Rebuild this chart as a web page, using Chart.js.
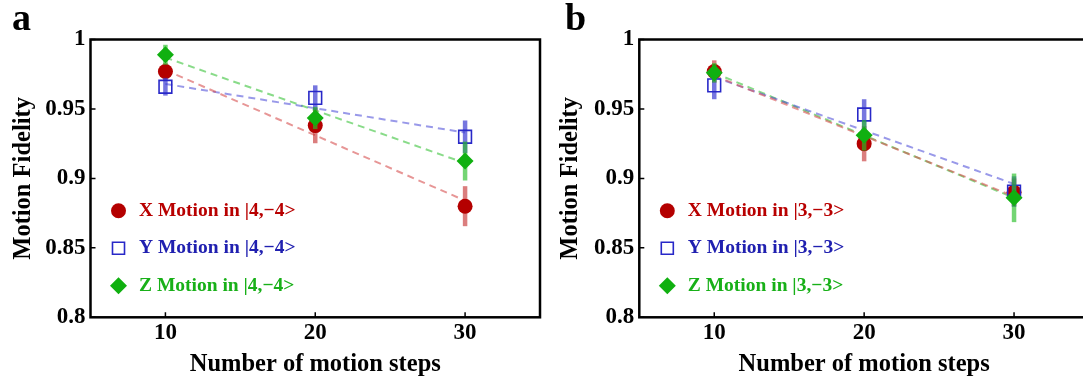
<!DOCTYPE html>
<html>
<head>
<meta charset="utf-8">
<script src="https://cdn.jsdelivr.net/npm/chart.js@4.4.0/dist/chart.umd.min.js"></script>
<style>
  html, body { margin: 0; padding: 0; background: #fff; }
  body { width: 1083px; height: 381px; position: relative; overflow: hidden; }
  .panel { position: absolute; top: 0; width: 560px; height: 381px; }
  .panel canvas { display: block; }
  .tag { position: absolute; top: -2px; font: bold 38px 'Liberation Serif', serif; line-height: 1; color: #000; }
</style>
</head>
<body>
<div class="panel" style="left:0"><canvas id="chartA" width="560" height="381"></canvas></div>
<div class="panel" style="left:548px"><canvas id="chartB" width="560" height="381"></canvas></div>
<div class="tag" style="left:12px">a</div>
<div class="tag" style="left:565px">b</div>
<script>
// x positions and tick values
const steps = [10, 20, 30];
const fitSteps = [10, 30];
const yTicks = [0.8, 0.85, 0.9, 0.95, 1];

// panel a : |4,-4>
const xMotionA = [0.977, 0.938, 0.880];
const xErrA = [0.006, 0.0127, 0.0144];
const yMotionA = [0.966, 0.958, 0.930];
const yErrA = [0.0064, 0.009, 0.0117];
const zMotionA = [0.989, 0.9435, 0.9125];
const zErrA = [0.0072, 0.008, 0.014];
const xFitA = [0.978, 0.884];
const yFitA = [0.968, 0.933];
const zFitA = [0.987, 0.911];

// panel b : |3,-3>
const xMotionB = [0.977, 0.925, 0.890];
const xErrB = [0.008, 0.0127, 0.010];
const yMotionB = [0.967, 0.946, 0.8905];
const yErrB = [0.010, 0.011, 0.011];
const zMotionB = [0.976, 0.931, 0.886];
const zErrB = [0.007, 0.011, 0.0175];
const xFitB = [0.974, 0.887];
const yFitB = [0.973, 0.896];
const zFitB = [0.976, 0.886];

const SERIF = "'Liberation Serif', 'Times New Roman', serif";

const styles = {
    X: { fill: '#b40000', stroke: '#b40000', shape: 'circle', radius: 7.5, border: 0,
         text: '#b80000', fit: 'rgba(215,80,80,0.6)', bar: 'rgba(195,40,40,0.6)' },
    Y: { fill: 'rgba(0,0,0,0)', stroke: '#2828c8', shape: 'rect', radius: 9, border: 1.6,
         text: '#2020b0', fit: 'rgba(70,70,215,0.55)', bar: 'rgba(60,60,210,0.7)' },
    Z: { fill: '#10b010', stroke: '#10b010', shape: 'rectRot', radius: 8.5, border: 0,
         text: '#18b018', fit: 'rgba(40,190,40,0.55)', bar: 'rgba(40,190,40,0.65)' }
};

const toPoints = (xs, ys) => xs.map((x, i) => ({ x: x, y: ys[i] }));

// little marker painter for the in-plot legend
function drawMarker(ctx, st, x, y, r) {
    ctx.save();
    ctx.fillStyle = st.fill;
    ctx.strokeStyle = st.stroke;
    ctx.lineWidth = st.border || 1;
    ctx.beginPath();
    if (st.shape === 'circle') {
        ctx.arc(x, y, r, 0, Math.PI * 2);
        ctx.fill();
    } else if (st.shape === 'rect') {
        const h = r * Math.SQRT1_2;
        ctx.rect(x - h, y - h, 2 * h, 2 * h);
        ctx.stroke();
    } else {
        ctx.moveTo(x, y - r);
        ctx.lineTo(x + r, y);
        ctx.lineTo(x, y + r);
        ctx.lineTo(x - r, y);
        ctx.closePath();
        ctx.fill();
    }
    ctx.restore();
}

const panelDecor = {
    id: 'panelDecor',
    // error bar of each series goes right under its own markers
    beforeDatasetDraw(chart, args) {
        const ds = chart.data.datasets[args.index];
        if (!ds.errors) return;
        const yScale = chart.scales.y;
        const ctx = chart.ctx;
        ctx.save();
        ctx.strokeStyle = ds.errorColor;
        ctx.lineWidth = 4.5;
        args.meta.data.forEach((pt, i) => {
            const v = ds.data[i].y, e = ds.errors[i];
            ctx.beginPath();
            ctx.moveTo(pt.x, yScale.getPixelForValue(v + e));
            ctx.lineTo(pt.x, yScale.getPixelForValue(v - e));
            ctx.stroke();
        });
        ctx.restore();
    },
    afterDraw(chart) {
        const { ctx, chartArea: a, scales } = chart;
        ctx.save();
        ctx.strokeStyle = '#000';
        ctx.lineWidth = 2.5;
        ctx.strokeRect(a.left, a.top, a.right - a.left, a.bottom - a.top);

        // ticks point inwards
        ctx.lineWidth = 1.5;
        ctx.beginPath();
        scales.x.ticks.forEach(t => {
            const px = scales.x.getPixelForValue(t.value);
            ctx.moveTo(px, a.bottom);
            ctx.lineTo(px, a.bottom - 5);
        });
        scales.y.ticks.forEach(t => {
            const py = scales.y.getPixelForValue(t.value);
            ctx.moveTo(a.left, py);
            ctx.lineTo(a.left + 5, py);
        });
        ctx.stroke();

        // legend
        ctx.font = 'bold 19.5px ' + SERIF;
        ctx.textBaseline = 'middle';
        ctx.textAlign = 'left';
        chart.data.datasets.forEach(ds => {
            if (ds.legendRow === undefined) return;
            const st = styles[ds.series];
            const y = a.top + 171.2 + ds.legendRow * 37.5;
            const x = a.left + 28;
            drawMarker(ctx, st, x, y, st.shape === 'circle' ? 7.5 : 8.5);
            ctx.fillStyle = st.text;
            ctx.fillText(ds.label, x + 20.5, y);
        });
        ctx.restore();
    }
};

function buildPanel(id, state, values, errors, fits, opts) {
    const keys = ['X', 'Y', 'Z'];
    const datasets = [];
    keys.forEach((k, i) => {
        const st = styles[k];
        datasets.push({
            type: 'scatter',
            label: k + ' Motion in ' + state,
            series: k,
            legendRow: i,
            data: toPoints(steps, values[i]),
            errors: errors[i],
            errorColor: st.bar,
            pointStyle: st.shape,
            pointRadius: st.radius,
            pointBackgroundColor: st.fill,
            pointBorderColor: st.stroke,
            pointBorderWidth: st.border,
            showLine: false,
            order: 3 - i
        });
    });
    keys.forEach((k, i) => {
        datasets.push({
            type: 'line',
            label: k + ' fit',
            data: toPoints(fitSteps, fits[i]),
            borderColor: styles[k].fit,
            borderWidth: 2,
            borderDash: [7, 5],
            pointRadius: 0,
            fill: false,
            order: 10 + i
        });
    });

    return new Chart(document.getElementById(id), {
        data: { datasets: datasets },
        options: {
            responsive: false,
            animation: false,
            events: [],
            layout: { padding: { left: 0, top: 39.5, right: opts.right, bottom: 0 } },
            plugins: { legend: { display: false }, tooltip: { enabled: false } },
            scales: {
                x: {
                    type: 'linear',
                    min: 5,
                    max: 35,
                    afterBuildTicks: scale => { scale.ticks = steps.map(v => ({ value: v })); },
                    afterFit: scale => { scale.height = 63.7; },
                    grid: { display: false, drawTicks: false },
                    border: { display: false },
                    ticks: {
                        padding: 2,
                        color: '#000',
                        font: { family: SERIF, size: 23, weight: 'bold' }
                    },
                    title: {
                        display: true,
                        text: 'Number of motion steps',
                        color: '#000',
                        padding: { top: 0, bottom: 2 },
                        font: { family: SERIF, size: 24.5, weight: 'bold' }
                    }
                },
                y: {
                    type: 'linear',
                    min: 0.8,
                    max: 1,
                    afterBuildTicks: scale => { scale.ticks = yTicks.map(v => ({ value: v })); },
                    afterFit: scale => { scale.width = opts.axisWidth; },
                    grid: { display: false, drawTicks: false },
                    border: { display: false },
                    ticks: {
                        padding: 5,
                        color: '#000',
                        font: { family: SERIF, size: 23, weight: 'bold' },
                        callback: v => String(+v.toFixed(2))
                    },
                    title: {
                        display: true,
                        text: 'Motion Fidelity',
                        color: '#000',
                        padding: { top: opts.titlePad, bottom: 0 },
                        font: { family: SERIF, size: 24.5, weight: 'bold' }
                    }
                }
            }
        },
        plugins: [panelDecor]
    });
}

buildPanel('chartA', '|4,\u22124>',
    [xMotionA, yMotionA, zMotionA], [xErrA, yErrA, zErrA], [xFitA, yFitA, zFitA],
    { axisWidth: 90.5, right: 20, titlePad: 9.1 });

buildPanel('chartB', '|3,\u22123>',
    [xMotionB, yMotionB, zMotionB], [xErrB, yErrB, zErrB], [xFitB, yFitB, zFitB],
    { axisWidth: 91.3, right: 19, titlePad: 7.7 });
</script>
</body>
</html>
